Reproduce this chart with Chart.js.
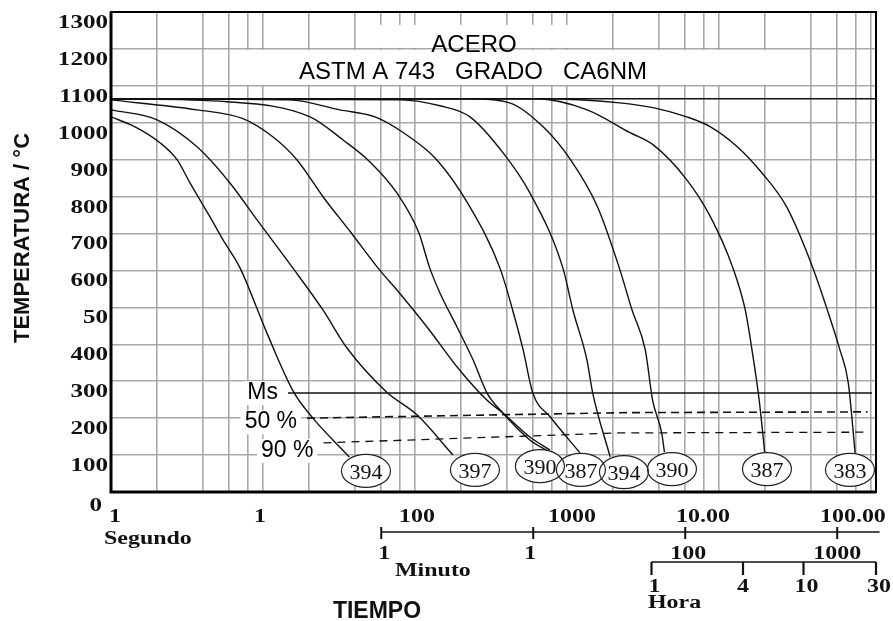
<!DOCTYPE html>
<html>
<head>
<meta charset="utf-8">
<script src="https://cdn.jsdelivr.net/npm/chart.js@4.4.0/dist/chart.umd.min.js"></script>
<style>
  body { margin: 0; background: #fff; }
  canvas { display: block; }
</style>
</head>
<body>
<canvas id="diagramaCCT" width="893" height="621"></canvas>
<script>
// Curvas de enfriamiento: [tiempo (s), temperatura (°C)]
const curva1 = [[1, 1016], [1.44, 989], [2.1, 946], [2.72, 900], [3.31, 837], [3.85, 791], [4.48, 745], [5.46, 683], [7.06, 607], [10.6, 431], [15.9, 271], [21.3, 200], [37, 95]];
const curva2 = [[1, 1035], [2.01, 1008], [3.68, 935], [6.06, 837], [9.14, 737], [15.7, 607], [24.8, 493], [35.7, 390], [65, 271], [103, 209], [178, 100]];
const curva3 = [[1, 1062], [3.68, 1035], [7.38, 1011], [11.6, 962], [16.7, 900], [24.9, 799], [38, 702], [57, 607], [79, 539], [120, 447], [196, 331], [297, 249], [379, 214], [570, 149], [772, 114]];
const curva4 = [[1, 1065], [5.8, 1057], [20.4, 1016], [33.5, 954], [50.6, 894], [76, 810], [106, 702], [125, 607], [146, 539], [189, 447], [241, 358], [298, 268], [379, 214], [570, 141], [772, 108]];
const curva5 = [[1, 1065], [15, 1062], [32, 1035], [54.6, 1016], [84, 973], [139, 900], [230, 772], [362, 607], [439, 493], [515, 385], [596, 268], [777, 203], [1218, 106]];
const curva6 = [[1, 1065], [80, 1062], [146, 1046], [230, 1016], [379, 919], [570, 810], [940, 607], [1094, 493], [1353, 358], [1478, 268], [1925, 95]];
const curva7 = [[1, 1065], [230, 1065], [420, 1054], [697, 989], [1055, 900], [1590, 772], [2210, 607], [2680, 493], [3276, 385], [3660, 249], [4200, 160], [4380, 108]];
const curva8 = [[1, 1065], [630, 1065], [1358, 1035], [2600, 973], [3700, 940], [6130, 846], [8800, 745], [12350, 607], [14900, 493], [16500, 385], [18400, 249], [20000, 108]];
const curva9 = [[1, 1065], [665, 1065], [2225, 1054], [3680, 1041], [6150, 1016], [8800, 989], [13200, 935], [19200, 864], [27900, 772], [41500, 607], [51000, 500], [62500, 385], [71000, 295], [78700, 106]];

// Temperatura de austenización y líneas de transformación martensítica
const austenizado = [[1, 1065], [108000, 1065]];
const lineaMs = [[14.6, 268], [101600, 268]];
const linea50 = [[19.5, 200], [2500, 215], [95000, 217]];
const linea90 = [[25, 133], [2200, 160], [95000, 162]];

// Durezas (HV) al final de cada curva
const durezas = ['394', '397', '390', '387', '394', '390', '387', '383'];
const durezaTiempo = [47.6, 248, 664, 1236, 2371, 4910, 20700, 72800];
const durezaTemp = [57, 60, 70, 60, 54, 62, 62, 60];

// Rótulos de los ejes
const etiquetasY = ['0', '100', '200', '300', '400', '50', '600', '700', '800', '900', '1000', '1100', '1200', '1300'];
const segundosVal = [1, 10, 100, 1000, 10000, 100000];
const segundosTxt = ['1', '1', '100', '1000', '10.00', '100.00'];
const minutosVal = [60, 600, 6000, 60000];
const minutosTxt = ['1', '1', '100', '1000'];
const horasVal = [3600, 14400, 36000, 108000];
const horasTxt = ['1', '4', '10', '30'];

const serif = '"Liberation Serif", "Times New Roman", serif';
const sans = '"Liberation Sans", Arial, sans-serif';
const gris = 'rgba(160,160,160,0.9)';

// Rejilla vertical: 1, 2, 4, 6, 8 por década
const rejillaX = [];
for (let d = 0; d <= 4; d++) {
    [1, 2, 4, 6, 8].forEach(m => rejillaX.push(m * Math.pow(10, d)));
}
rejillaX.push(100000);

const aPuntos = arr => arr.map(p => ({ x: p[0], y: p[1] }));

function curva(datos) {
    return {
        data: aPuntos(datos),
        borderColor: '#111',
        borderWidth: 1.4,
        pointRadius: 0,
        cubicInterpolationMode: 'monotone',
        fill: false
    };
}

function recta(datos, ancho, guiones) {
    return {
        data: aPuntos(datos),
        borderColor: '#111',
        borderWidth: ancho,
        borderDash: guiones,
        pointRadius: 0,
        tension: 0,
        fill: false
    };
}

// Texto ensanchado horizontalmente (rótulos de los ejes)
function textoAncho(ctx, txt, x, y, sx, align) {
    ctx.save();
    ctx.translate(x, y);
    ctx.scale(sx, 1);
    ctx.textAlign = align;
    ctx.fillText(txt, 0, 0);
    ctx.restore();
}

const rotulos = [['Ms', lineaMs, 0], ['50 %', linea50, 4], ['90 %', linea90, 8]];

const anotaciones = {
    id: 'anotaciones',
    beforeDatasetsDraw(chart) {
        const { ctx, scales: { x, y } } = chart;
        ctx.save();
        ctx.fillStyle = '#fff';
        // recuadros blancos detrás del título
        const rect = (t0, t1, T0, T1) => {
            const px0 = x.getPixelForValue(t0), px1 = x.getPixelForValue(t1);
            const py0 = y.getPixelForValue(T1), py1 = y.getPixelForValue(T0);
            ctx.fillRect(px0, py0, px1 - px0, py1 - py0);
        };
        rect(57, 1220, 1203, 1265);
        rect(7, 21600, 1103, 1197);

        // fondo de los rótulos Ms, 50 %, 90 %
        ctx.font = '23px ' + sans;
        rotulos.forEach(([txt, linea, dy]) => {
            const xf = x.getPixelForValue(linea[0][0]) - 10;
            const yf = y.getPixelForValue(linea[0][1]) + dy;
            const w = ctx.measureText(txt).width;
            ctx.fillRect(xf - w - 4, yf - 12, w + 8, 24);
        });
        ctx.restore();
    },
    afterDatasetsDraw(chart) {
        const { ctx, chartArea: a, scales: { x, y } } = chart;
        ctx.save();

        // título
        ctx.fillStyle = '#000';
        ctx.font = '24px ' + sans;
        ctx.textAlign = 'center';
        ctx.textBaseline = 'middle';
        ctx.fillText('ACERO', 474, 45);
        ctx.fillText('ASTM A 743   GRADO   CA6NM', 473, 72);

        // rótulos de las líneas de transformación
        ctx.font = '23px ' + sans;
        ctx.textAlign = 'right';
        rotulos.forEach(([txt, linea, dy]) => {
            ctx.fillText(txt, x.getPixelForValue(linea[0][0]) - 10, y.getPixelForValue(linea[0][1]) + dy);
        });

        // elipses con la dureza
        const centros = durezas.map((d, i) => [x.getPixelForValue(durezaTiempo[i]), y.getPixelForValue(durezaTemp[i])]);
        ctx.fillStyle = '#fff';
        centros.forEach(([cx, cy]) => {
            ctx.beginPath();
            ctx.ellipse(cx, cy, 24.5, 16.5, 0, 0, Math.PI * 2);
            ctx.fill();
        });
        ctx.strokeStyle = '#222';
        ctx.lineWidth = 1.2;
        centros.forEach(([cx, cy]) => {
            ctx.beginPath();
            ctx.ellipse(cx, cy, 24.5, 16.5, 0, 0, Math.PI * 2);
            ctx.stroke();
        });
        ctx.fillStyle = '#111';
        ctx.font = '22px ' + serif;
        ctx.textAlign = 'center';
        centros.forEach(([cx, cy], i) => ctx.fillText(durezas[i], cx, cy + 2));

        // marco del diagrama
        ctx.strokeStyle = '#000';
        ctx.lineWidth = 2;
        ctx.strokeRect(a.left, a.top, a.right - a.left, a.bottom - a.top);
        ctx.lineWidth = 3;
        ctx.beginPath();
        ctx.moveTo(a.left, a.top);
        ctx.lineTo(a.left, a.bottom);
        ctx.lineTo(a.right, a.bottom);
        ctx.stroke();

        // escala de temperatura
        ctx.fillStyle = '#111';
        ctx.font = 'bold 19px ' + serif;
        ctx.textBaseline = 'middle';
        etiquetasY.forEach((txt, i) => {
            const v = i * 100;
            const xr = v === 0 ? 102 : 108;
            textoAncho(ctx, txt, xr, y.getPixelForValue(v) + (v === 0 ? 14 : 11), 1.32, 'right');
        });

        // escala de segundos
        ctx.font = 'bold 18px ' + serif;
        const dxSeg = [4, -3, 2, 5, -16, -18];
        segundosVal.forEach((v, i) => {
            textoAncho(ctx, segundosTxt[i], x.getPixelForValue(v) + dxSeg[i], 517, 1.33, 'center');
        });
        ctx.textBaseline = 'alphabetic';
        textoAncho(ctx, 'Segundo', 104, 544, 1.33, 'left');

        // escala de minutos
        const yMin = 532;
        ctx.strokeStyle = '#111';
        ctx.lineWidth = 1.3;
        ctx.beginPath();
        ctx.moveTo(x.getPixelForValue(60), yMin);
        ctx.lineTo(x.getPixelForValue(114000), yMin);
        ctx.stroke();
        ctx.lineWidth = 2;
        minutosVal.forEach(v => {
            const px = x.getPixelForValue(v);
            ctx.beginPath();
            ctx.moveTo(px, yMin - 5);
            ctx.lineTo(px, yMin + 7);
            ctx.stroke();
        });
        ctx.textBaseline = 'middle';
        const dxMin = [3, -3, 3, 0];
        minutosVal.forEach((v, i) => {
            textoAncho(ctx, minutosTxt[i], x.getPixelForValue(v) + dxMin[i], 554, 1.33, 'center');
        });
        ctx.textBaseline = 'alphabetic';
        textoAncho(ctx, 'Minuto', 395, 576, 1.33, 'left');

        // escala de horas
        const yHora = 562;
        ctx.lineWidth = 1.3;
        ctx.beginPath();
        ctx.moveTo(x.getPixelForValue(3600), yHora);
        ctx.lineTo(x.getPixelForValue(108000), yHora);
        ctx.stroke();
        ctx.lineWidth = 2.2;
        horasVal.forEach(v => {
            const px = x.getPixelForValue(v);
            ctx.beginPath();
            ctx.moveTo(px, yHora);
            ctx.lineTo(px, yHora + 13);
            ctx.stroke();
        });
        ctx.textBaseline = 'middle';
        const dxHora = [3, 0, 3, 3];
        horasVal.forEach((v, i) => {
            textoAncho(ctx, horasTxt[i], x.getPixelForValue(v) + dxHora[i], 587, 1.33, 'center');
        });
        ctx.textBaseline = 'alphabetic';
        textoAncho(ctx, 'Hora', 648, 608, 1.33, 'left');

        // títulos de los ejes
        ctx.font = 'bold 23px ' + sans;
        ctx.fillText('TIEMPO', 377, 618);
        ctx.save();
        ctx.translate(23, 238);
        ctx.rotate(-Math.PI / 2);
        ctx.font = 'bold 22px ' + sans;
        ctx.textAlign = 'center';
        ctx.textBaseline = 'middle';
        ctx.fillText('TEMPERATURA / °C', 0, 0);
        ctx.restore();

        ctx.restore();
    }
};

const ctx = document.getElementById('diagramaCCT').getContext('2d');
const diagrama = new Chart(ctx, {
    type: 'line',
    data: {
        datasets: [
            recta(austenizado, 1.6, []),
            recta(lineaMs, 1.4, []),
            recta(linea50, 1.6, [8, 5]),
            recta(linea90, 1.3, [8, 6]),
            curva(curva1), curva(curva2), curva(curva3),
            curva(curva4), curva(curva5), curva(curva6),
            curva(curva7), curva(curva8), curva(curva9)
        ]
    },
    options: {
        responsive: false,
        animation: false,
        layout: { padding: { left: 111, right: 17, top: 12, bottom: 129 } },
        plugins: { legend: { display: false }, tooltip: { enabled: false } },
        scales: {
            x: {
                type: 'logarithmic',
                min: 1,
                max: 108000,
                afterBuildTicks: scale => { scale.ticks = rejillaX.map(v => ({ value: v })); },
                afterFit: scale => { scale.height = 0; },
                ticks: { display: false },
                border: { display: false },
                grid: { color: gris, lineWidth: 1.6, drawTicks: false }
            },
            y: {
                type: 'linear',
                min: 0,
                max: 1300,
                afterFit: scale => { scale.width = 0; },
                ticks: { display: false, stepSize: 100 },
                border: { display: false },
                grid: { color: gris, lineWidth: 1.6, drawTicks: false }
            }
        }
    },
    plugins: [anotaciones]
});
</script>
</body>
</html>
